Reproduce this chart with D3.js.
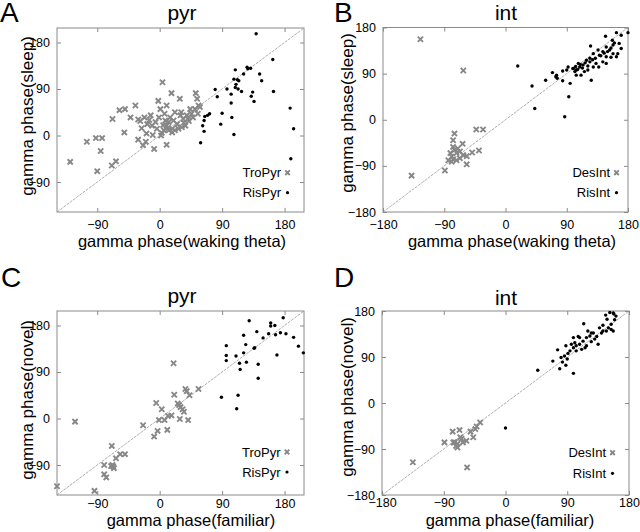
<!DOCTYPE html>
<html><head><meta charset="utf-8">
<script src="https://cdn.jsdelivr.net/npm/d3@7"></script>
<style>body{margin:0;background:#fff}svg{display:block}text{font-family:Arial,"Liberation Sans",sans-serif}</style>
</head><body><svg id="c" width="640" height="532"></svg>
<script>
// ---- data (phase in degrees) ----
const ticksPyr = [-90, 0, 90, 180];
const ticksInt = [-180, -90, 0, 90, 180];

const aTroPyr = [[-129,-51],[-105,-12],[-92,-5],[-83,-5],[-85,-30],[-90,-69],[-69,-58],[-63,-50],[-68,32],[-58,49],[-50,51],[-51,6],[-42,35],[-35,58],[-31,31],[-26,14],[-24,-19],[-20,-12],[-22,35],[-19,4],[-31,-8],[-8,-26],[-10,1],[-1,35],[-2,67],[4,103],[10,58],[17,82],[10,-18],[2,0],[6,10],[13,26],[18,13],[22,45],[29,71],[32,16],[37,19],[39,39],[46,42],[51,51],[52,82],[54,71],[56,58],[55,42],[44,51],[10,19],[15,35],[20,29],[25,22],[8,29],[13,10],[27,13],[-6,26],[-4,13],[-13,39],[1,51],[7,42],[-18,22],[-11,19],[30,39],[34,32],[41,32],[48,35],[31,45],[22,10],[18,6],[5,20],[3,5],[12,15],[-15,30],[-28,28],[35,25],[42,28],[58,55]];
const aRisPyr = [[139,197],[163,147],[109,127],[126,132],[127,129],[131,130],[121,119],[144,119],[107,109],[112,108],[114,106],[147,106],[110,99],[109,93],[113,90],[118,85],[97,90],[80,89],[103,80],[134,84],[132,76],[136,66],[164,85],[83,75],[103,63],[188,53],[193,13],[189,-45],[72,42],[69,39],[65,37],[64,29],[62,19],[64,8],[59,-14],[90,43],[88,22],[104,35],[107,2]];

const bDesInt = [[-125,157],[-62,96],[-138,-109],[-89,-99],[-75,-27],[-43,-19],[-33,-19],[-57,-87],[-39,-60],[-49,-64],[-63,-47],[-77,-40],[-77,-53],[-75,-59],[-81,-65],[-79,-72],[-77,-77],[-72,-65],[-67,-62],[-62,-69],[-57,-71],[-67,-75],[-79,-82],[-70,-56],[-84,-79],[-72,-79]];
const bRisInt = [[18,105],[39,66],[43,22],[87,6],[93,45],[59,77],[69,92],[74,84],[76,81],[84,76],[90,97],[95,71],[126,77],[99,100],[104,97],[109,103],[114,107],[119,116],[124,120],[125,144],[133,110],[143,113],[147,163],[163,170],[180,170],[157,155],[148,142],[153,136],[158,146],[167,149],[170,139],[158,129],[138,126],[129,129],[107,110],[102,94],[116,94],[121,97],[129,103],[137,103],[148,110],[155,122],[163,123],[143,133],[136,136],[92,103],[104,87],[111,87],[148,123],[165,129],[75,87],[84,95],[100,100],[103,104],[106,98],[110,108],[113,101],[117,111],[121,105],[124,113],[128,117],[132,120],[140,125],[145,130],[150,133],[155,140],[160,150],[170,165]];

const cTroPyr = [[-148,-131],[-122,-6],[-94,-140],[-80,-90],[-80,-108],[-77,-114],[-69,-53],[-68,-90],[-67,-93],[-66,-96],[-70,-92],[-63,-77],[-57,-69],[-50,-69],[-24,-13],[-8,-35],[-5,30],[-3,-24],[-1,-3],[3,18],[7,-3],[11,-22],[12,5],[17,6],[20,107],[21,46],[26,29],[28,26],[30,22],[29,-1],[33,18],[35,13],[37,57],[39,53],[41,-3],[43,45],[56,57]];
const cRisPyr = [[89,41],[96,141],[96,122],[96,112],[110,121],[111,19],[113,45],[115,107],[116,95],[121,161],[121,127],[124,143],[125,109],[129,189],[136,136],[137,137],[140,168],[142,105],[142,78],[149,156],[157,164],[160,185],[160,179],[166,180],[167,162],[169,123],[174,166],[178,195],[182,164],[193,157],[200,140],[207,127]];

const dDesInt = [[-135,-116],[-56,-126],[-89,-77],[-77,-56],[-67,-53],[-74,-77],[-70,-87],[-72,-84],[-66,-67],[-62,-77],[-57,-74],[-51,-56],[-47,-67],[-44,-51],[-42,-46],[-37,-38],[-70,-80],[-76,-77],[-64,-70]];
const dRisInt = [[0,-49],[47,64],[69,82],[79,67],[88,74],[99,58],[76,104],[88,112],[81,89],[86,92],[91,97],[94,102],[99,108],[103,112],[108,115],[113,121],[118,128],[123,131],[128,137],[135,115],[114,155],[133,130],[137,147],[142,152],[148,164],[152,177],[157,176],[159,163],[154,144],[157,141],[147,141],[142,141],[106,130],[101,118],[96,115],[118,112],[125,120],[130,125],[103,102],[111,105],[116,108],[90,86],[83,80],[120,141],[125,137],[140,137],[150,147],[99,128],[108,128],[154,154],[158,174],[146,172],[161,170]];

const panels = [
  {letter:"A", title:"pyr", xl:"gamma phase(waking theta)", yl:"gamma phase(sleep)", leg:["TroPyr","RisPyr"],
   grey:aTroPyr, black:aRisPyr, dom:[-148,208], ticks:ticksPyr, xpad:8,
   box:[57,304,28,212], lx:[0,22], tt:[182,20], xlab:[182,247], ylab:[33,116], legx:281, legy:[172.7,192.7]},
  {letter:"B", title:"int", xl:"gamma phase(waking theta)", yl:"gamma phase(sleep)", leg:["DesInt","RisInt"],
   grey:bDesInt, black:bRisInt, dom:[-180,180], ticks:ticksInt, xpad:8,
   box:[383,628,27.5,212], lx:[334,22], tt:[506,20], xlab:[512,247], ylab:[353,113], legx:610, legy:[172.7,192.7]},
  {letter:"C", title:"pyr", xl:"gamma phase(familiar)", yl:"gamma phase(novel)", leg:["TroPyr","RisPyr"],
   grey:cTroPyr, black:cRisPyr, dom:[-148,208], ticks:ticksPyr, xpad:4,
   box:[57,304,311,495], lx:[1,287], tt:[182,302.5], xlab:[191,525.5], ylab:[33,400], legx:280.5, legy:[452,472]},
  {letter:"D", title:"int", xl:"gamma phase(familiar)", yl:"gamma phase(novel)", leg:["DesInt","RisInt"],
   grey:dDesInt, black:dRisInt, dom:[-180,180], ticks:ticksInt, xpad:3,
   box:[382,629,311,495], lx:[334,287], tt:[506,305], xlab:[510,526], ylab:[353,397], legx:606, legy:[452.7,473.3]}
];

const svg = d3.select("#c");
const GREY = "#878787", BOX = "#8a8a8a";

function cross(g, x, y, s) {
  g.append("path").attr("d", `M${x-s},${y-s}L${x+s},${y+s}M${x-s},${y+s}L${x+s},${y-s}`)
   .attr("stroke", GREY).attr("stroke-width", 1.9).attr("fill", "none");
}

panels.forEach(p => {
  const [L,R,T,B] = p.box;
  const x = d3.scaleLinear().domain(p.dom).range([L,R]);
  const y = d3.scaleLinear().domain(p.dom).range([B,T]);
  const g = svg.append("g");

  // axes with inward ticks, box
  const tl = 4;
  g.append("g").attr("transform",`translate(0,${B})`)
    .call(d3.axisBottom(x).tickValues(p.ticks).tickSizeInner(-tl).tickSizeOuter(0).tickPadding(p.xpad).tickFormat(d3.format("d")))
    .call(a=>{a.select(".domain").remove(); a.selectAll("line").attr("stroke",BOX);
      a.selectAll("text").attr("fill","#000").attr("font-size","12.5px").attr("font-family","Arial, 'Liberation Sans', sans-serif");});
  g.append("g").attr("transform",`translate(0,${T})`)
    .call(d3.axisTop(x).tickValues(p.ticks).tickSizeInner(-tl).tickSizeOuter(0).tickFormat(""))
    .call(a=>{a.select(".domain").remove(); a.selectAll("line").attr("stroke",BOX);});
  g.append("g").attr("transform",`translate(${L},0)`)
    .call(d3.axisLeft(y).tickValues(p.ticks).tickSizeInner(-tl).tickSizeOuter(0).tickPadding(tl+3).tickFormat(d3.format("d")))
    .call(a=>{a.select(".domain").remove(); a.selectAll("line").attr("stroke",BOX);
      a.selectAll("text").attr("fill","#000").attr("font-size","12.5px").attr("font-family","Arial, 'Liberation Sans', sans-serif");});
  g.append("g").attr("transform",`translate(${R},0)`)
    .call(d3.axisRight(y).tickValues(p.ticks).tickSizeInner(-tl).tickSizeOuter(0).tickFormat(""))
    .call(a=>{a.select(".domain").remove(); a.selectAll("line").attr("stroke",BOX);});
  g.append("rect").attr("x",L).attr("y",T).attr("width",R-L).attr("height",B-T)
    .attr("fill","none").attr("stroke",BOX).attr("stroke-width",1);

  // identity line
  g.append("line").attr("x1",x(p.dom[0])).attr("y1",y(p.dom[0])).attr("x2",x(p.dom[1])).attr("y2",y(p.dom[1]))
    .attr("stroke","#9a9a9a").attr("stroke-width",0.8).attr("stroke-dasharray","3,1");

  // points
  p.grey.forEach(d => cross(g, x(d[0]), y(d[1]), 2.6));
  g.selectAll("circle.b").data(p.black).join("circle").attr("class","b")
    .attr("cx",d=>x(d[0])).attr("cy",d=>y(d[1])).attr("r",1.7).attr("fill","#000");

  // legend
  p.leg.forEach((t,i) => {
    g.append("text").attr("x",p.legx).attr("y",p.legy[i]).attr("dy","0.35em")
      .attr("text-anchor","end").attr("font-size","13px").text(t);
  });
  cross(g, p.legx+6.5, p.legy[0], 2.3);
  g.append("circle").attr("cx",p.legx+6.5).attr("cy",p.legy[1]).attr("r",1.6).attr("fill","#000");

  // labels
  g.append("text").attr("x",p.lx[0]).attr("y",p.lx[1]).attr("font-size","28px").text(p.letter);
  g.append("text").attr("x",p.tt[0]).attr("y",p.tt[1]).attr("text-anchor","middle").attr("font-size","21px").text(p.title);
  g.append("text").attr("x",p.xlab[0]).attr("y",p.xlab[1]).attr("text-anchor","middle").attr("font-size","16.5px").text(p.xl);
  g.append("text").attr("transform",`translate(${p.ylab[0]},${p.ylab[1]}) rotate(-90)`)
    .attr("text-anchor","middle").attr("font-size","17px").text(p.yl);
});
</script></body></html>
